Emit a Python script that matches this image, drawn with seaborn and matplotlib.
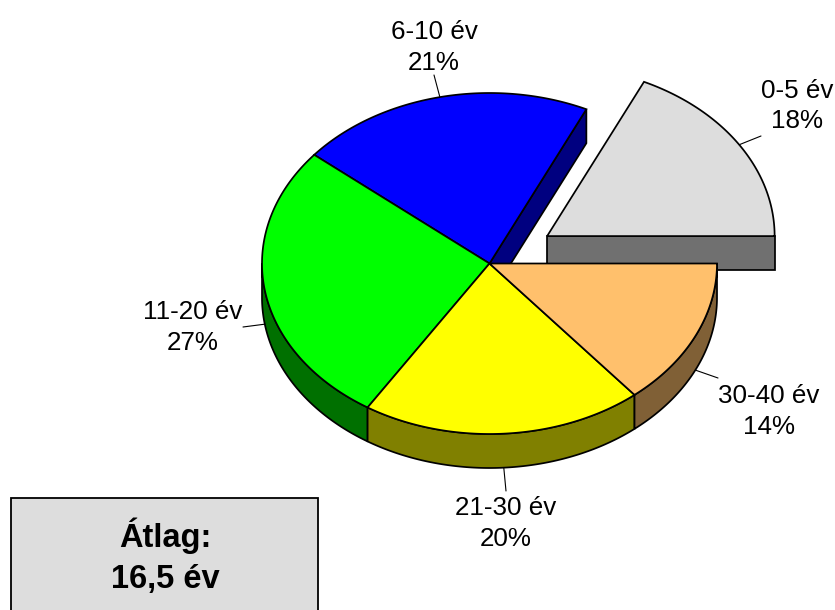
import numpy as np
import matplotlib
matplotlib.use("Agg")
import matplotlib.pyplot as plt
import seaborn as sns

# ---- data ----
categories = ["0-5 év", "6-10 év", "11-20 év", "21-30 év", "30-40 év"]
shares = [18, 21, 27, 20, 14]
explode = [0.3, 0, 0, 0, 0]
top_colors = ["#DDDDDD", "#0000FF", "#00FF00", "#FFFF00", "#FFC06C"]
side_colors = ["#707070", "#000080", "#007000", "#808000", "#806036"]
average_title = "Átlag:"
average_value = "16,5 év"

# label layout (pixel positions of text and leader end)
label_pos = [(797, 98), (434, 39), (193, 319), (506, 515), (769, 403)]
leader_end = [(761, 136), (434, 75), (243, 327), (506, 491), (718, 378)]

sns.set_theme(style="white")
plt.rcParams["font.family"] = ["Liberation Sans", "DejaVu Sans"]

fig = plt.figure(figsize=(8.35, 6.1), dpi=100)
ax = fig.add_axes([0, 0, 1, 1])
ax.set_xlim(0, 835)
ax.set_ylim(610, 0)
ax.axis("off")

CX, CY, RX, RY, DEPTH = 489.5, 263.5, 227.5, 170.5, 34
LW = 1.25


def ell(theta, ox=0.0, oy=0.0, down=0.0):
    t = np.radians(theta)
    return CX + ox + RX * np.cos(t), CY + oy - RY * np.sin(t) + down


total = float(sum(shares))
angles = np.cumsum([0] + [s / total * 360 for s in shares])
n = len(shares)
slices = []
for i in range(n):
    a0, a1 = angles[i], angles[i + 1]
    mid = (a0 + a1) / 2
    ox = explode[i] * RX * np.cos(np.radians(mid))
    oy = -explode[i] * RY * np.sin(np.radians(mid))
    slices.append((a0, a1, mid, ox, oy))

# radial faces
for i, (a0, a1, mid, ox, oy) in enumerate(slices):
    prev_i, next_i = (i - 1) % n, (i + 1) % n
    faces = []
    if np.cos(np.radians(a0)) > 0 and (explode[i] > 0 or explode[prev_i] > 0):
        faces.append(a0)
    if np.cos(np.radians(a1)) < 0 and (explode[i] > 0 or explode[next_i] > 0):
        faces.append(a1)
    for a in faces:
        ex, ey = ell(a, ox, oy)
        cx, cy = CX + ox, CY + oy
        xs = [cx, ex, ex, cx]
        ys = [cy, ey, ey + DEPTH, cy + DEPTH]
        ax.fill(xs, ys, facecolor=side_colors[i], edgecolor="black", linewidth=LW, zorder=1)

# outer walls
for i, (a0, a1, mid, ox, oy) in enumerate(slices):
    lo, hi = max(a0, 180), min(a1, 360)
    if hi <= lo:
        continue
    th = np.linspace(lo, hi, 120)
    tx, ty = ell(th, ox, oy)
    bx, by = ell(th[::-1], ox, oy, DEPTH)
    ax.fill(np.concatenate([tx, bx]), np.concatenate([ty, by]),
            facecolor=side_colors[i], edgecolor="black", linewidth=LW, zorder=2)

# tops
for i, (a0, a1, mid, ox, oy) in enumerate(slices):
    th = np.linspace(a0, a1, 200)
    tx, ty = ell(th, ox, oy)
    xs = np.concatenate([[CX + ox], tx])
    ys = np.concatenate([[CY + oy], ty])
    ax.fill(xs, ys, facecolor=top_colors[i], edgecolor="black", linewidth=LW,
            joinstyle="miter", zorder=3)

# labels with leader lines
for i, (a0, a1, mid, ox, oy) in enumerate(slices):
    down = DEPTH if np.sin(np.radians(mid)) < 0 else 0
    sx, sy = ell(mid, ox, oy, down)
    exx, eyy = leader_end[i]
    ax.plot([sx, exx], [sy, eyy], color="black", linewidth=0.8, zorder=4)
    lx, ly = label_pos[i]
    ax.text(lx, ly, categories[i], ha="center", va="baseline", fontsize=18.7,
            color="black", zorder=5)
    ax.text(lx, ly + 30.5, f"{shares[i]}%", ha="center", va="baseline", fontsize=18.7,
            color="black", zorder=5)

# average box
ax.fill([11, 318, 318, 11], [498, 498, 612, 612], facecolor="#DDDDDD",
        edgecolor="black", linewidth=1.3, zorder=1, clip_on=False)
ax.text(165, 547, average_title, ha="center", va="baseline", fontsize=23.5,
        fontweight="bold", color="black", zorder=5)
ax.text(165, 588, average_value, ha="center", va="baseline", fontsize=23.5,
        fontweight="bold", color="black", zorder=5)

fig.savefig("out.png", dpi=100, facecolor="white")
